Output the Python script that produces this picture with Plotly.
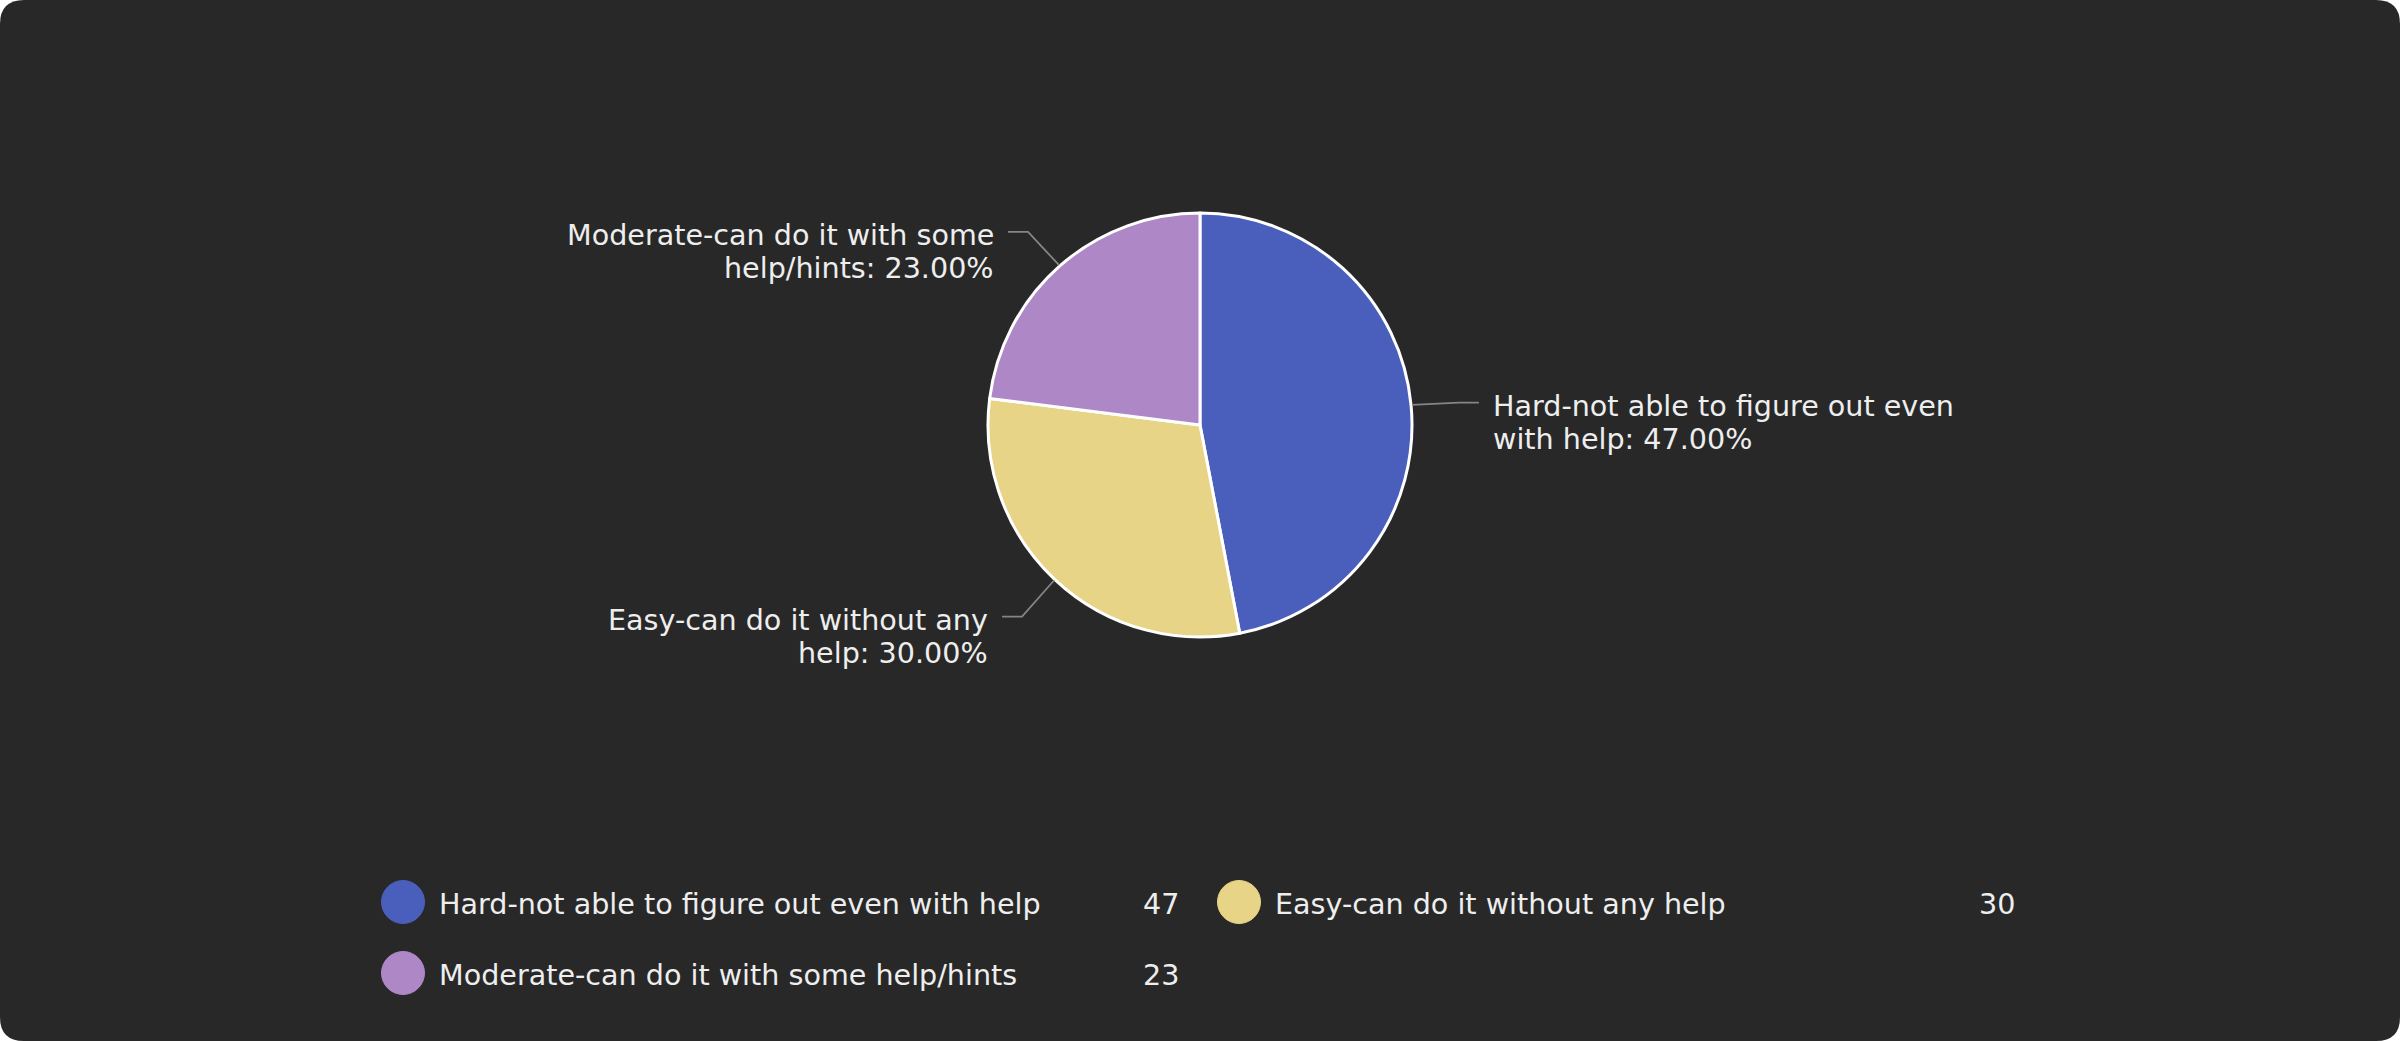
import math
import plotly.graph_objects as go

# ---------------- data ----------------
categories = [
    "Hard-not able to figure out even with help",
    "Easy-can do it without any help",
    "Moderate-can do it with some help/hints",
]
values = [47, 30, 23]
colors = ["#4a5fbc", "#e8d486", "#ae87c7"]
# label lines as wrapped in the chart (first line / second line prefix)
label_line1 = [
    "Hard-not able to figure out even",
    "Easy-can do it without any",
    "Moderate-can do it with some",
]
label_line2_prefix = [
    "with help",
    "help",
    "help/hints",
]

# ---------------- layout constants (pixels) ----------------
W, H = 2400, 1041
CX, CY, R = 1200, 425, 212
FONT = "DejaVu Sans, Verdana, sans-serif"
FS = 28.6
TXT = "#eeeeee"
BG = "#282828"
LEAD = "#858585"

fig = go.Figure()

fig.add_trace(go.Pie(
    labels=categories,
    values=values,
    sort=False,
    direction="clockwise",
    rotation=0,
    marker=dict(colors=colors, line=dict(color="#ffffff", width=3)),
    textinfo="none",
    hoverinfo="label+value+percent",
    showlegend=False,
    domain=dict(x=[(CX - R) / W, (CX + R) / W],
                y=[1 - (CY + R) / H, 1 - (CY - R) / H]),
))

shapes = []
annotations = []

# rounded dark background
rr = 24
path = (f"M {rr},0 L {W-rr},0 Q {W},0 {W},{rr} L {W},{H-rr} Q {W},{H} {W-rr},{H} "
        f"L {rr},{H} Q 0,{H} 0,{H-rr} L 0,{rr} Q 0,0 {rr},0 Z")
shapes.append(dict(type="path", path=path, xref="x", yref="y",
                   fillcolor=BG, line=dict(width=0), layer="below"))

total = sum(values)
cum = 0
for i, v in enumerate(values):
    mid = (cum + v / 2) / total
    cum += v
    th = 2 * math.pi * mid
    dx, dy = math.sin(th), -math.cos(th)
    ex, ey = CX + (R + 1) * dx, CY + (R + 1) * dy
    bx, by = ex + 47 * dx, ey + 47 * dy + 2
    side = 1 if dx >= 0 else -1
    hx = bx + 20 * side
    shapes.append(dict(type="path", path=f"M {ex},{ey} L {bx},{by} L {hx},{by}",
                       xref="x", yref="y", line=dict(color=LEAD, width=1.8),
                       layer="above"))
    pct = 100 * v / total
    lines = [label_line1[i], f"{label_line2_prefix[i]}: {pct:.2f}%"]
    tx = hx + 12 * side
    for j, t in enumerate(lines):
        annotations.append(dict(
            x=tx, y=by + 3.5 + 33 * j, xref="x", yref="y", text=t,
            showarrow=False, xanchor="left" if side > 0 else "right",
            yanchor="middle", font=dict(family=FONT, size=FS, color=TXT),
        ))

# custom legend (2 columns)
col_x = [403, 1239]
row_y = [902, 973]
for i, (c, v) in enumerate(zip(categories, values)):
    cx = col_x[i % 2]
    cy = row_y[i // 2]
    shapes.append(dict(type="circle", xref="x", yref="y",
                       x0=cx - 21.5, x1=cx + 21.5, y0=cy - 21.5, y1=cy + 21.5,
                       fillcolor=colors[i], line=dict(color=colors[i], width=1)))
    annotations.append(dict(x=cx + 34, y=cy + 2, xref="x", yref="y", text=c,
                            showarrow=False, xanchor="left", yanchor="middle",
                            font=dict(family=FONT, size=FS, color=TXT)))
    annotations.append(dict(x=cx + 778, y=cy + 2, xref="x", yref="y", text=str(v),
                            showarrow=False, xanchor="right", yanchor="middle",
                            font=dict(family=FONT, size=FS, color=TXT)))

fig.update_layout(
    width=W, height=H,
    margin=dict(l=0, r=0, t=0, b=0),
    paper_bgcolor="#ffffff",
    plot_bgcolor="rgba(0,0,0,0)",
    xaxis=dict(range=[0, W], visible=False, fixedrange=True, domain=[0, 1]),
    yaxis=dict(range=[H, 0], visible=False, fixedrange=True, domain=[0, 1]),
    shapes=shapes,
    annotations=annotations,
    showlegend=False,
)

fig.write_html("out.html")
